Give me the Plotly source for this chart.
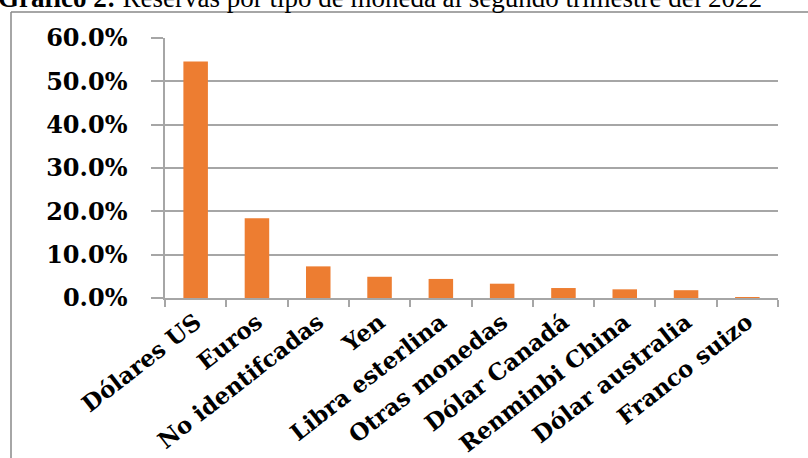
import plotly.graph_objects as go

categories = ["Dólares US", "Euros", "No identifcadas", "Yen", "Libra esterlina",
              "Otras monedas", "Dólar Canadá", "Renminbi China", "Dólar australia", "Franco suizo"]
values = [54.6, 18.4, 7.3, 4.9, 4.4, 3.3, 2.3, 2.0, 1.8, 0.2]
tick_vals = [0, 10, 20, 30, 40, 50, 60]
tick_text = ["0.0%", "10.0%", "20.0%", "30.0%", "40.0%", "50.0%", "60.0%"]
title_text = "<b>Gráfico 2:</b> Reservas por tipo de moneda al segundo trimestre del 2022"

W, H = 808, 458
L, R, T, B = 165, 30, 38, 160
pw, ph = W - L - R, H - T - B

def px_x(x):
    return (x - L) / pw

def px_y(y):
    return 1 - (y - T) / ph

fig = go.Figure()
fig.add_trace(go.Bar(
    x=categories, y=values,
    marker=dict(color="#ED7D31", line=dict(width=0)),
    width=0.4,
))

grid = "#A6A6A6"
fig.update_layout(
    width=W, height=H,
    margin=dict(l=L, r=R, t=T, b=B, autoexpand=False),
    paper_bgcolor="white", plot_bgcolor="white",
    showlegend=False,
    xaxis=dict(
        showline=True, linecolor=grid, linewidth=1.5,
        ticks="outside", ticklen=7, tickcolor=grid, tickwidth=1.5,
        tickson="boundaries", tickangle=-38,
        tickfont=dict(family="DejaVu Serif", size=23, color="black", weight="bold"),
        automargin=False, showgrid=False,
    ),
    yaxis=dict(
        range=[0, 60], tickvals=tick_vals, ticktext=tick_text,
        showline=True, linecolor=grid, linewidth=1.5,
        ticks="outside", ticklen=12, tickcolor=grid, tickwidth=1.5,
        showgrid=True, gridcolor=grid, gridwidth=1.5, zeroline=False,
        tickfont=dict(family="DejaVu Serif", size=24, color="black", weight="bold"),
        ticklabelstandoff=19, automargin=False,
    ),
    shapes=[
        dict(type="line", xref="paper", yref="paper",
             x0=px_x(11), x1=px_x(808), y0=px_y(12), y1=px_y(12),
             line=dict(color="#888888", width=1.5)),
        dict(type="line", xref="paper", yref="paper",
             x0=px_x(11), x1=px_x(11), y0=px_y(12), y1=px_y(458),
             line=dict(color="#888888", width=1.5)),
    ],
    annotations=[
        dict(text=title_text, xref="paper", yref="paper",
             x=px_x(380), y=px_y(15), xanchor="center", yanchor="bottom",
             showarrow=False,
             font=dict(family="Liberation Serif", size=27, color="black")),
    ],
)

fig.write_html("out.html", config={"displayModeBar": False},
               post_script="document.body.style.margin='0';document.body.style.overflow='hidden';")
